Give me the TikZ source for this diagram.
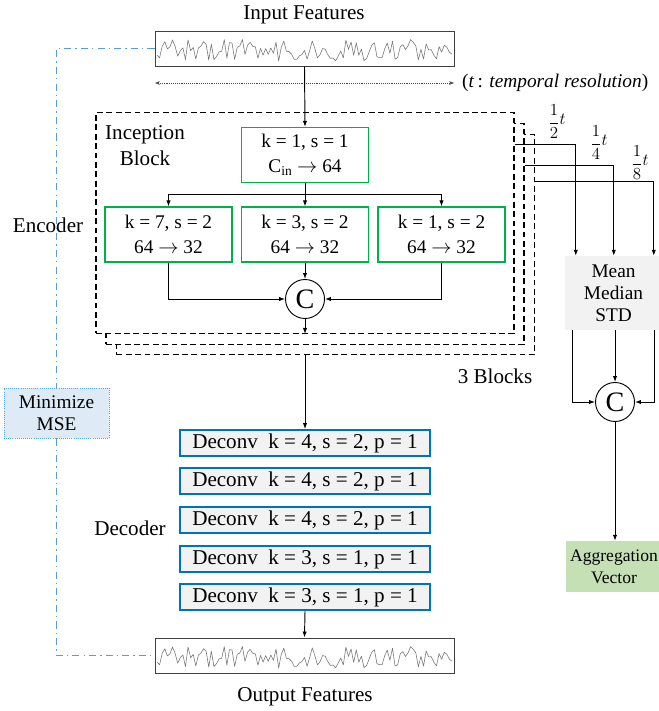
\documentclass[tikz,border=0pt]{standalone}
\usepackage{amsmath}
\usepackage{fontspec}
\setmainfont{Liberation Serif}
\usetikzlibrary{arrows.meta, calc, positioning}
\definecolor{greenA}{RGB}{0,176,80}
\definecolor{blueA} {RGB}{0,112,192}
\definecolor{grayA} {RGB}{242,242,242}
\definecolor{lineA} {RGB}{91,155,213}
\definecolor{mseA}  {RGB}{222,235,247}
\definecolor{mseB}  {RGB}{80,170,230}
\definecolor{aggA}  {RGB}{197,224,180}
\definecolor{waveA} {RGB}{120,120,120}

\begin{document}
\begin{tikzpicture}[x=0.03cm, y=-0.03cm,
  font=\fontsize{18}{21}\selectfont,
  conn/.style={draw, line width=0.8pt},
  arr/.style={conn, -{Latex[length=1.8mm, width=1.3mm]}},
  sigbox/.style={draw=black!75, line width=0.8pt, minimum width=8.97cm, minimum height=1.05cm, inner sep=0pt},
  wave/.style={draw=waveA, line width=0.5pt, line join=round},
  blockbox/.style={draw, fill=white, dash pattern=on 5pt off 3pt, line width=1.1pt, minimum width=12.54cm, minimum height=6.62cm, inner sep=0pt},
  convbox/.style={draw=greenA, line width=1pt, minimum width=3.81cm, minimum height=1.65cm, align=center, inner sep=0pt, font=\fontsize{16.5}{21.5}\selectfont},
  catnode/.style={draw, circle, line width=0.8pt, minimum size=1.17cm, inner sep=0pt, font=\fontsize{24}{24}\selectfont},
  deconv/.style={draw=blueA, fill=grayA, line width=1.6pt, minimum width=7.5cm, minimum height=0.78cm, inner sep=0pt},
  statsbox/.style={fill=grayA, minimum width=2.91cm, minimum height=2.22cm, align=center, inner sep=0pt, font=\fontsize{16.5}{18.7}\selectfont},
  aggbox/.style={fill=aggA, minimum width=2.88cm, minimum height=1.53cm, align=center, inner sep=0pt, font=\fontsize{15}{18.7}\selectfont},
  msebox/.style={draw=mseB, fill=mseA, densely dotted, line width=0.8pt, minimum width=3.15cm, minimum height=1.5cm, align=center, inner sep=0pt, font=\fontsize{16.5}{18.5}\selectfont},
  mseline/.style={draw=lineA, line width=1.1pt, dash pattern=on 6pt off 3.5pt on 1.2pt off 3.5pt},
  tarrow/.style={draw=black!70, densely dotted, line width=0.6pt, {Stealth[length=1.5mm]}-{Stealth[length=1.5mm]}},
  frac/.style={font=\fontsize{13.5}{14}\selectfont}]

  \useasboundingbox (0,0) rectangle (658,711);

  % input signal
  \node (infeat) at (304,15) {Input Features};
  \node[sigbox] (inbox) at (304.5,48.5) {};
  \coordinate (tl) at (155,83);
  \coordinate (tr) at (454,83);
  \draw[tarrow] (tl) -- (tr);
  \node[anchor=west, inner sep=0pt, font=\fontsize{16.5}{20}\selectfont] (tres) at (462,83) {(\textit{t}\,: \textit{temporal resolution})};

  % three stacked blocks
  \node[blockbox] (blkC) at (325.5,244.5) {};
  \node[blockbox] (blkB) at (315,234) {};
  \node[blockbox] (blkA) at (305,223) {};
  \node[align=center, font=\fontsize{18}{22}\selectfont] (incep) at (145,146) {Inception\\Block};

  \node[convbox] (convA) at (305,155) {k = 1, s = 1\\C$_\mathrm{in}$ $\rightarrow$ 64};
  \node[convbox] (convB) at (168.5,234.5) {k = 7, s = 2\\64 $\rightarrow$ 32};
  \node[convbox] (convC) at (305,234.5) {k = 3, s = 2\\64 $\rightarrow$ 32};
  \node[convbox] (convD) at (441.5,234.5) {k = 1, s = 2\\64 $\rightarrow$ 32};
  \node[catnode] (catA) at (305,299) {C};

  \draw[arr] (inbox.south) -- (convA.north);
  \coordinate (split) at ($(convA.south)!0.5!(convC.north)$);
  \draw[conn] (convA.south) -- (split);
  \draw[arr] (split) -| (convB.north);
  \draw[arr] (split) -- (convC.north);
  \draw[arr] (split) -| (convD.north);
  \draw[arr] (convB.south) |- (catA.west);
  \draw[arr] (convC.south) -- (catA.north);
  \draw[arr] (convD.south) |- (catA.east);
  \draw[arr] (catA.south) -- (catA.south |- blkA.south);

  \node (enc) at (48,225) {Encoder};
  \node (nblk) at (495,376) {3 Blocks};

  % statistics branch
  \node[statsbox] (stats) at (613.5,293) {Mean\\Median\\STD};
  \coordinate (tapA) at ($(blkA.north east)+(0,32)$);
  \coordinate (tapB) at ($(blkB.north east)+(0,42)$);
  \coordinate (tapC) at ($(blkC.north east)+(0,48)$);
  \draw[arr] (tapA) -| ($(stats.north west)+(11,0)$);
  \draw[arr] (tapB) -| ($(stats.north west)+(49,0)$);
  \draw[arr] (tapC) -| ($(stats.north west)+(89,0)$);
  \node[frac] (frA) at (557,122) {$\dfrac{1}{2}\raisebox{0.35ex}{$t$}$};
  \node[frac] (frB) at (599,143) {$\dfrac{1}{4}\raisebox{0.35ex}{$t$}$};
  \node[frac] (frC) at (640,163) {$\dfrac{1}{8}\raisebox{0.35ex}{$t$}$};

  \node[catnode] (catB) at (615,402) {C};
  \draw[arr] ($(stats.south west)+(8,0)$) |- (catB.west);
  \draw[arr] (catB.north |- stats.south) -- (catB.north);
  \draw[arr] ($(stats.south west)+(90,0)$) |- (catB.east);
  \node[aggbox] (agg) at (614,566.5) {Aggregation\\Vector};
  \draw[arr] (catB.south) -- (catB.south |- agg.north);

  % decoder
  \foreach \n/\y/\k/\s in {1/443/4/2, 2/481/4/2, 3/520/4/2, 4/559/3/1, 5/597/3/1}
    \node[deconv] (dc\n) at (305,\y) {Deconv\hspace{0.5em}k = \k, s = \s, p = 1};
  \node (dec) at (130,528) {Decoder};
  \draw[arr] (dc1.north |- blkC.south) -- (dc1.north);

  \node[sigbox] (outbox) at (304.5,655.5) {};
  \draw[arr] (dc5.south) -- (outbox.north);
  \node (outfeat) at (305,697) {Output Features};

  \foreach \yc in {48.5, 655.5} {
    \pgfmathsetseed{3}
    \draw[wave] plot[domain=157:452, samples=115] (\x, {\yc + 2 + 11*rand});
  }

  % reconstruction loss
  \node[msebox] (mse) at (56.5,413) {Minimize\\MSE};
  \draw[mseline] (inbox.west) -| (mse.north);
  \draw[mseline] (mse.south) |- (outbox.west);

\end{tikzpicture}
\end{document}
